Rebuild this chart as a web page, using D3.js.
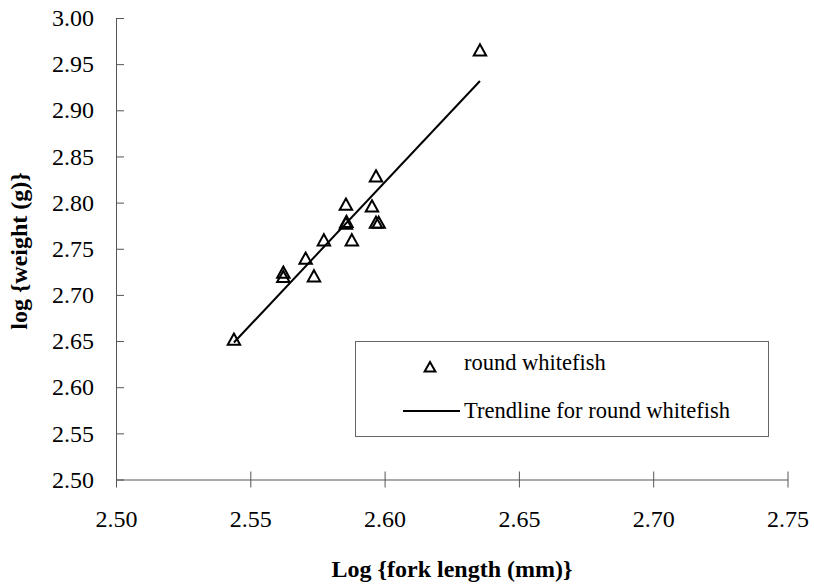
<!DOCTYPE html>
<html>
<head>
<meta charset="utf-8">
<script src="https://cdn.jsdelivr.net/npm/d3@7"></script>
<style>
  html, body { margin: 0; padding: 0; background: #fff; }
  svg { display: block; }
</style>
</head>
<body>
<script>
// ---- data ----
const logForkLength = [2.5968, 2.5856, 2.5953, 2.5856, 2.5858, 2.5968, 2.5978, 2.5774, 2.5878, 2.5706, 2.5623, 2.5623, 2.5737, 2.6355, 2.5439];
const logWeight     = [2.8288, 2.7982, 2.7963, 2.7775, 2.7795, 2.7785, 2.7785, 2.7595, 2.7595, 2.7396, 2.7245, 2.7197, 2.7205, 2.9653, 2.6519];
const xTicks = [2.50, 2.55, 2.60, 2.65, 2.70, 2.75];
const yTicks = [2.50, 2.55, 2.60, 2.65, 2.70, 2.75, 2.80, 2.85, 2.90, 2.95, 3.00];
const seriesName = "round whitefish";
const trendName = "Trendline for round whitefish";
const xTitle = "Log {fork length (mm)}";
const yTitle = "log {weight (g)}";

const FONT = "'Liberation Serif', 'Times New Roman', serif";
const W = 814, H = 588;
const svg = d3.select("body").append("svg").attr("width", W).attr("height", H)
  .style("font-family", FONT);

const x = d3.scaleLinear().domain([2.50, 2.75]).range([116, 787.5]);
const y = d3.scaleLinear().domain([2.50, 3.00]).range([479.5, 18]);

const axisColor = "#555";

// x axis
const gx = svg.append("g").attr("transform", `translate(0,${y(2.5)})`)
  .call(d3.axisBottom(x).tickValues(xTicks).tickFormat(d3.format(".2f")).tickSizeInner(8).tickSizeOuter(0).tickPadding(22));
gx.attr("font-family", null).attr("font-size", null);
gx.select(".domain").attr("stroke", axisColor);
gx.selectAll(".tick line").attr("stroke", axisColor).attr("y1", -8);
gx.selectAll(".tick text").style("font-size", "24px").style("font-family", FONT).attr("fill", "#000");

// y axis
const gy = svg.append("g").attr("transform", `translate(${x(2.5)},0)`)
  .call(d3.axisLeft(y).tickValues(yTicks).tickFormat(d3.format(".2f")).tickSizeInner(8).tickSizeOuter(0).tickPadding(14));
gy.attr("font-family", null).attr("font-size", null);
gy.select(".domain").attr("stroke", axisColor);
gy.selectAll(".tick line").attr("stroke", axisColor).attr("x2", 8);
gy.selectAll(".tick text").style("font-size", "24px").style("font-family", FONT).attr("fill", "#000");

// points
const pts = logForkLength.map((v, i) => ({ x: v, y: logWeight[i] }));
const tri = "M0,-5.8L6.2,5.4L-6.2,5.4Z";
svg.append("g").selectAll("path").data(pts).join("path")
  .attr("d", tri)
  .attr("transform", d => `translate(${x(d.x)},${y(d.y)})`)
  .attr("fill", "none").attr("stroke", "#000").attr("stroke-width", 2).attr("stroke-linejoin", "miter");

// linear trendline (least squares)
const mx = d3.mean(pts, d => d.x), my = d3.mean(pts, d => d.y);
const sxy = d3.sum(pts, d => (d.x - mx) * (d.y - my));
const sxx = d3.sum(pts, d => (d.x - mx) ** 2);
const slope = sxy / sxx, icpt = my - slope * mx;
const [x0, x1] = d3.extent(pts, d => d.x);
svg.append("path")
  .datum([x0, x1].map(v => ({ x: v, y: icpt + slope * v })))
  .attr("d", d3.line().x(d => x(d.x)).y(d => y(d.y)))
  .attr("stroke", "#000").attr("stroke-width", 2).attr("fill", "none");

// legend
const lg = svg.append("g");
lg.append("rect").attr("x", 355.5).attr("y", 341.5).attr("width", 413).attr("height", 95)
  .attr("fill", "#fff").attr("stroke", "#666").attr("stroke-width", 1);
lg.append("path").attr("d", "M0,-5L5.4,4.6L-5.4,4.6Z").attr("transform", "translate(430,367)")
  .attr("fill", "none").attr("stroke", "#000").attr("stroke-width", 2);
lg.append("text").attr("x", 464).attr("y", 370).style("font-size", "22.5px").text(seriesName);
lg.append("line").attr("x1", 403).attr("x2", 460).attr("y1", 411).attr("y2", 411)
  .attr("stroke", "#000").attr("stroke-width", 2);
lg.append("text").attr("x", 464).attr("y", 418).style("font-size", "22.5px").text(trendName);

// axis titles
svg.append("text").attr("x", 452).attr("y", 577).attr("text-anchor", "middle")
  .style("font-size", "24px").attr("font-weight", "bold").text(xTitle);
svg.append("text").attr("transform", "translate(27,251) rotate(-90)").attr("text-anchor", "middle")
  .style("font-size", "24px").attr("font-weight", "bold").text(yTitle);
</script>
</body>
</html>
